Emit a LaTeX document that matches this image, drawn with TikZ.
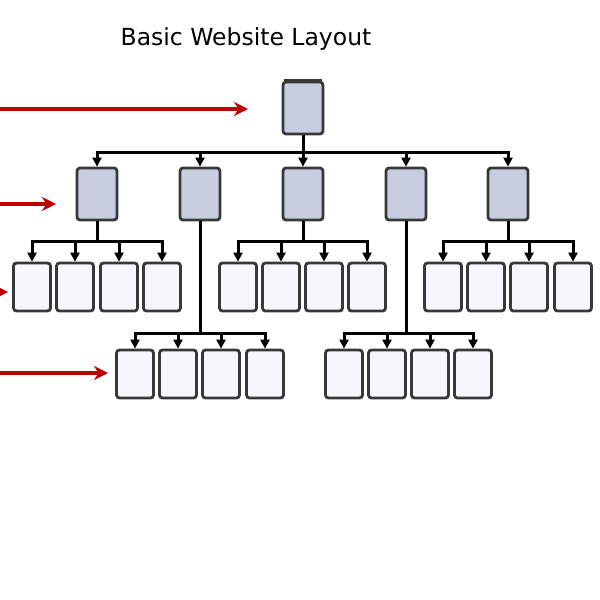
\documentclass[tikz,border=0pt]{standalone}
\usepackage{fontspec}
\setmainfont{DejaVu Sans}
\usetikzlibrary{arrows.meta}

\definecolor{boxline}{HTML}{383838}
\definecolor{topfill}{HTML}{C9CDE0}
\definecolor{pagefill}{HTML}{F6F7FB}
\definecolor{markred}{HTML}{C00000}

\tikzset{
	mainpage/.style={draw=boxline, fill=topfill, line width=2.8pt, rounded corners=3pt, minimum width=40pt, minimum height=52pt, inner sep=0pt},
	subpage/.style={draw=boxline, fill=pagefill, line width=2.8pt, rounded corners=3pt, minimum width=37pt, minimum height=48pt, inner sep=0pt},
	link/.style={line width=3pt, -{Triangle[length=9pt,width=9pt]}},
	marker/.style={markred, line width=3.6pt, -{Stealth[length=14pt,width=14pt]}}
}

\begin{document}
\begin{tikzpicture}[x=1pt,y=-1pt]
	\useasboundingbox (0,0) rectangle (600,600);
	
	% Titel
	\node[font=\fontsize{23.5}{26}\selectfont] (title) at (246,39) {Basic Website Layout};
	
	% Startseite
	\node[mainpage] (home) at (303,108) {};
	\draw[boxline, line width=4pt] ([xshift=2pt]home.north west) -- ([xshift=-2pt]home.north east);
	
	% Hauptseiten
	\foreach \n/\x in {1/97, 2/200, 3/303, 4/406, 5/508}
		\node[mainpage] (main\n) at (\x,194) {};
	
	% Unterseiten
	\foreach \i/\x in {1/32, 2/75, 3/119, 4/162}
		\node[subpage] (sa\i) at (\x,287) {};
	\foreach \i/\x in {1/238, 2/281, 3/324, 4/367}
		\node[subpage] (sb\i) at (\x,287) {};
	\foreach \i/\x in {1/443, 2/486, 3/529, 4/573}
		\node[subpage] (sc\i) at (\x,287) {};
	
	% dritte Ebene
	\foreach \i/\x in {1/135, 2/178, 3/221, 4/265}
		\node[subpage] (ta\i) at (\x,374) {};
	\foreach \i/\x in {1/344, 2/387, 3/430, 4/473}
		\node[subpage] (tb\i) at (\x,374) {};
	
	% Verbindungen
	\coordinate (bus1) at (0,152);
	\coordinate (bus2) at (0,241);
	\coordinate (bus3) at (0,333);
	\foreach \n in {1,...,5}
		\draw[link] (home.south) -- (home.south |- bus1) -| (main\n.north);
	\foreach \i in {1,...,4} {
		\draw[link] (main1.south) -- (main1.south |- bus2) -| (sa\i.north);
		\draw[link] (main3.south) -- (main3.south |- bus2) -| (sb\i.north);
		\draw[link] (main5.south) -- (main5.south |- bus2) -| (sc\i.north);
		\draw[link] (main2.south) -- (main2.south |- bus3) -| (ta\i.north);
		\draw[link] (main4.south) -- (main4.south |- bus3) -| (tb\i.north);
	}
	
	% rote Pfeile
	\coordinate (r1s) at (-2,109);
	\coordinate (r1e) at (248,109);
	\coordinate (r2s) at (-2,204);
	\coordinate (r2e) at (56,204);
	\coordinate (r3s) at (-16,292);
	\coordinate (r3e) at (8,292);
	\coordinate (r4s) at (-2,373);
	\coordinate (r4e) at (108,373);
	\draw[marker] (r1s) -- (r1e);
	\draw[marker] (r2s) -- (r2e);
	\draw[marker] (r3s) -- (r3e);
	\draw[marker] (r4s) -- (r4e);
	
\end{tikzpicture}
\end{document}
